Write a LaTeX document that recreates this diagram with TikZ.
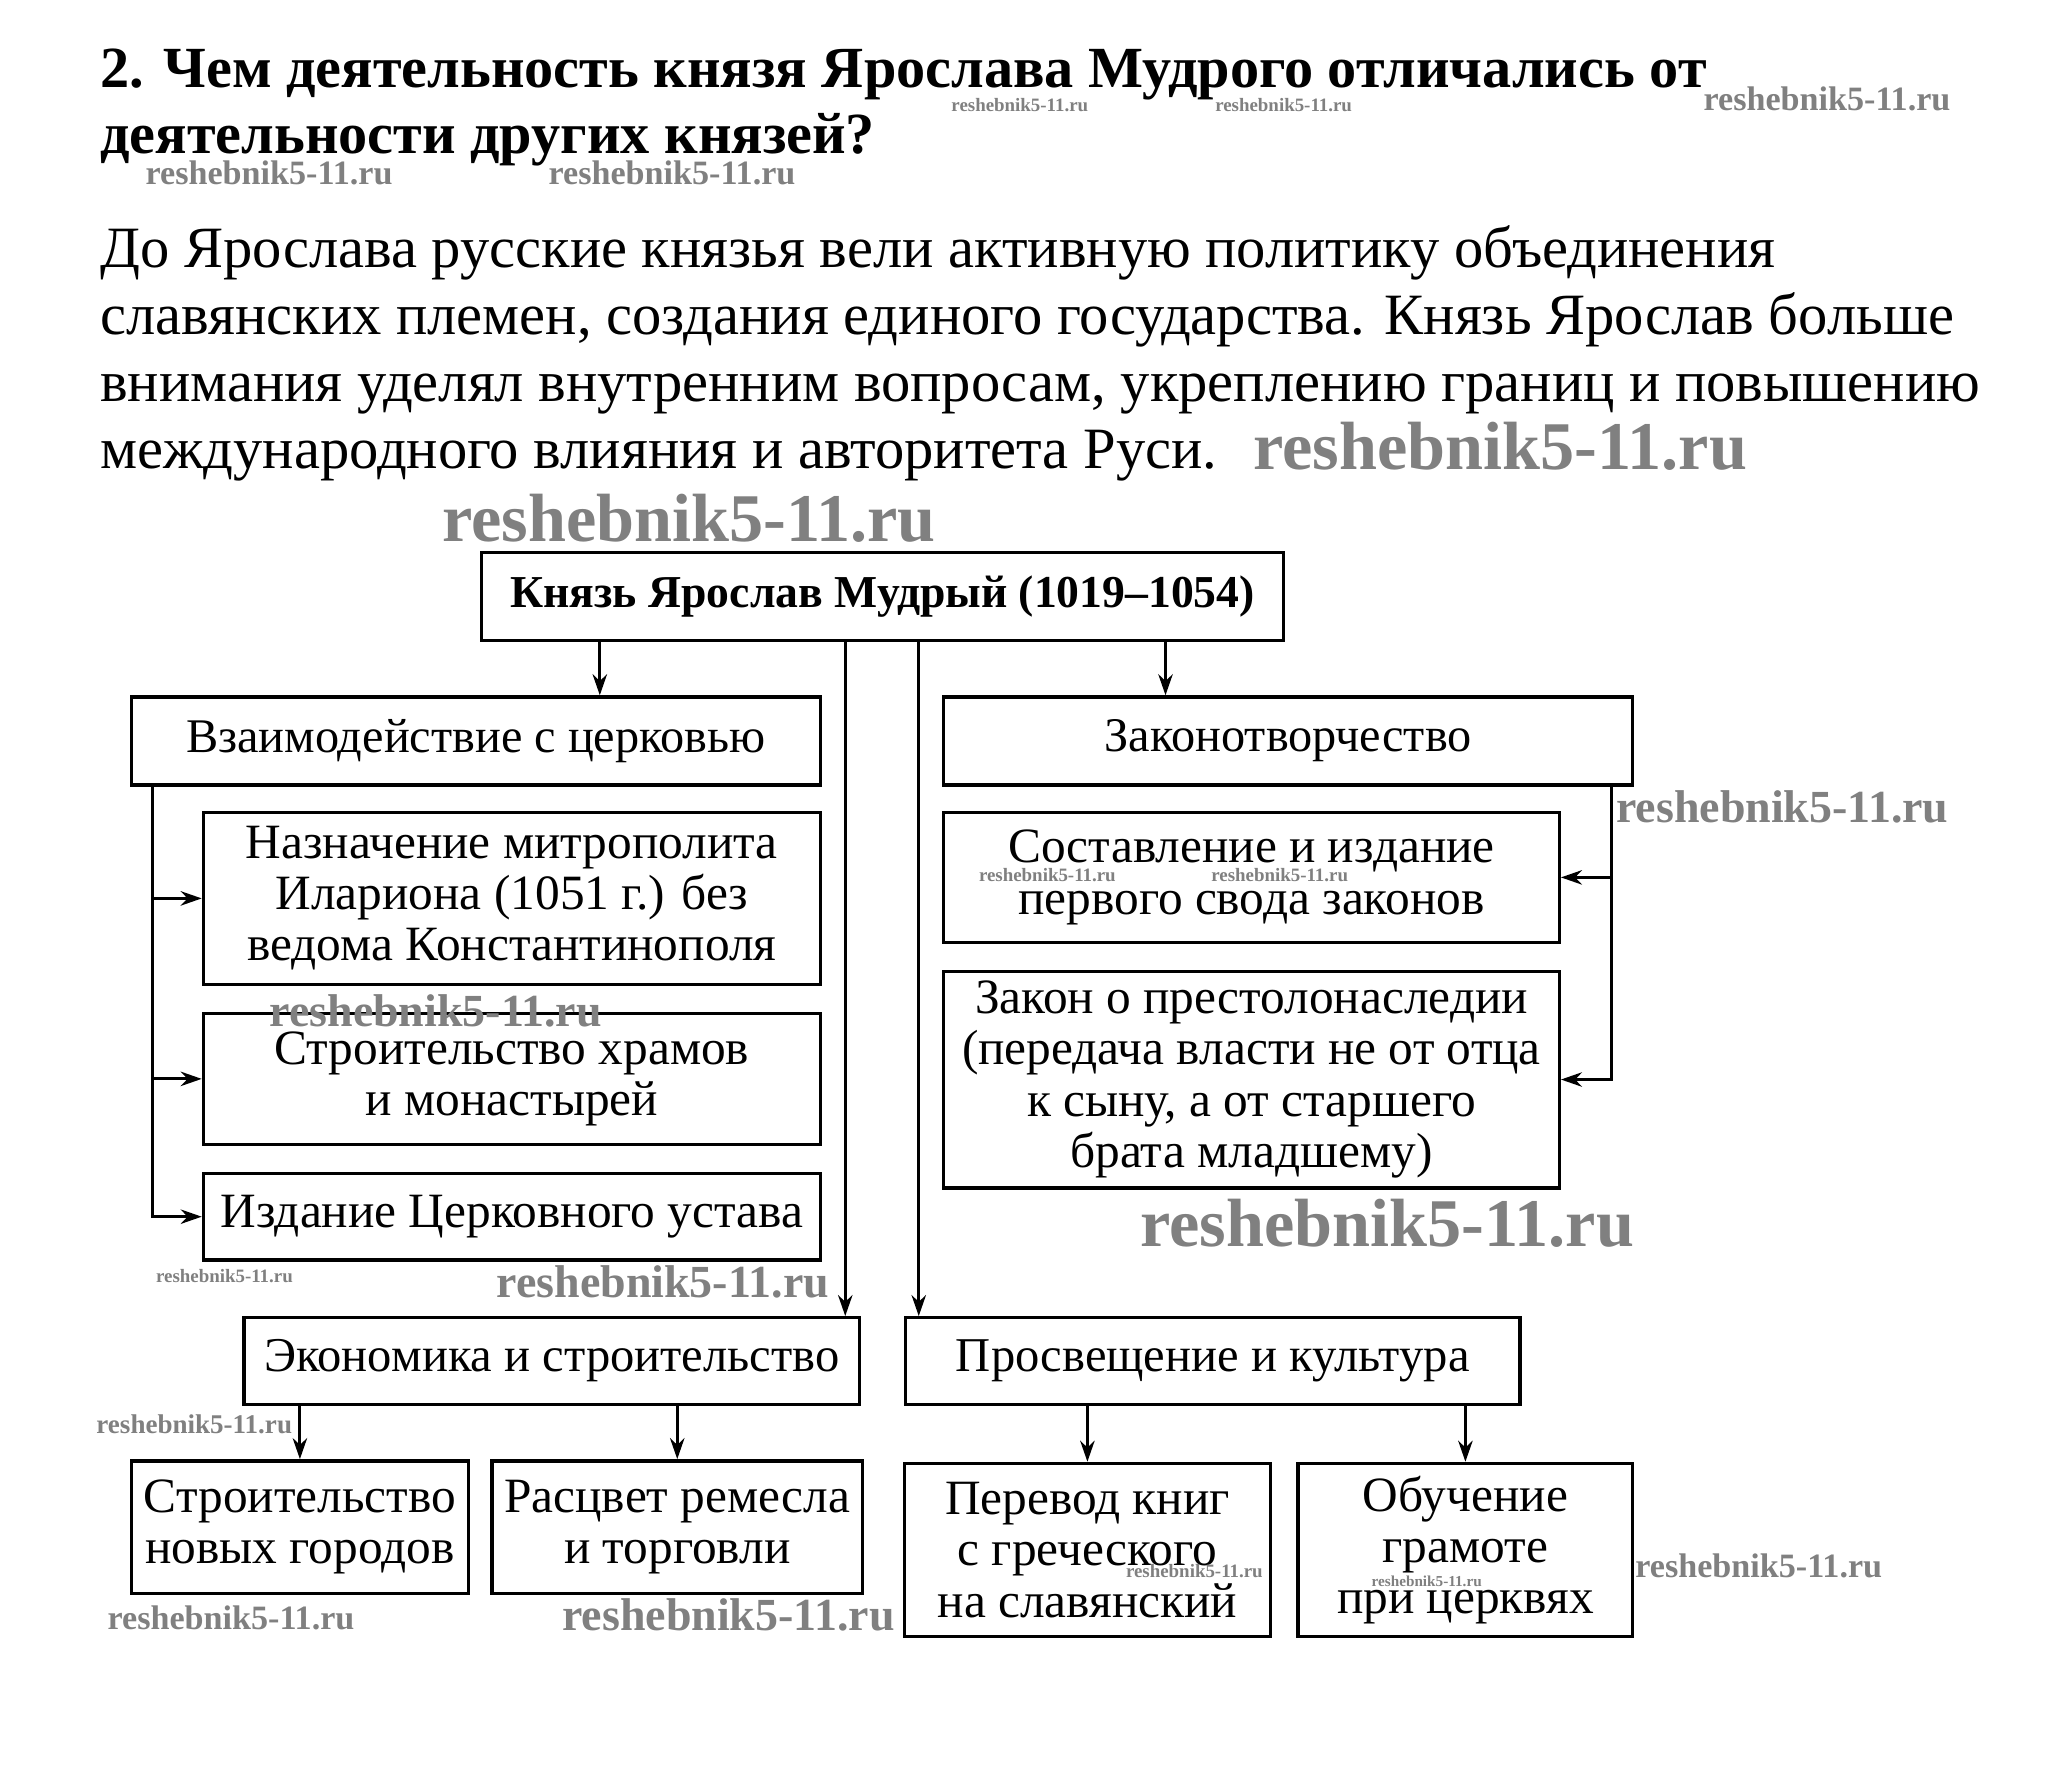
\documentclass[tikz,border=0pt]{standalone}
\usepackage{fontspec}
\setmainfont{Liberation Serif}
\usetikzlibrary{arrows.meta}
\begin{document}
\begin{tikzpicture}[x=0.5pt,y=-0.5pt,
  box/.style={draw, line width=1.3pt, inner sep=0pt, align=center, font=\fontsize{18.8}{19.5}\selectfont},
  arr/.style={line width=1.1pt, -{Stealth[length=8pt,width=5.5pt]}},
  ttl/.style={anchor=base west, inner sep=0pt, font=\bfseries\fontsize{22.2}{25}\selectfont},
  par/.style={anchor=base west, inner sep=0pt, font=\fontsize{22.3}{25}\selectfont},
  wm/.style={text=black!50, inner sep=0pt, font=\bfseries\fontsize{#1}{#1}\selectfont}]
\fill[white] (0,0) rectangle (1568,1358);
\useasboundingbox (0,0) rectangle (1568,1358);
% title
\node[ttl] (t1) at (76,67) {2. Чем деятельность князя Ярослава Мудрого отличались от};
\node[ttl] (t2) at (76,117) {деятельности других князей?};
% paragraph
\node[par] (p1) at (76,204) {До Ярослава русские князья вели активную политику объединения};
\node[par] (p2) at (76,255) {славянских племен, создания единого государства. Князь Ярослав больше};
\node[par] (p3) at (76,306) {внимания уделял внутренним вопросам, укреплению границ и повышению};
\node[par] (p4) at (76,357) {международного влияния и авторитета Руси.};
% boxes
\node[box, minimum width=305.5pt, minimum height=33.5pt, font=\bfseries\fontsize{17.4}{19.5}\selectfont] (top) at (672.5,454.5) {Князь Ярослав Мудрый (1019–1054)};
\node[box, minimum width=262.5pt, minimum height=33.5pt, font=\fontsize{18.4}{19.5}\selectfont] (church) at (362.5,564.5) {Взаимодействие с церковью};
\node[box, minimum width=262.5pt, minimum height=33.5pt, font=\fontsize{18.4}{19.5}\selectfont] (law) at (981.5,564.5) {Законотворчество};
\node[box, minimum width=235pt, minimum height=65.5pt] (c1) at (390,684.5) {Назначение митрополита\\Илариона (1051 г.) без\\ведома Константинополя};
\node[box, minimum width=235pt, minimum height=50pt] (c2) at (390,822) {Строительство храмов\\и монастырей};
\node[box, minimum width=235pt, minimum height=33pt] (c3) at (390,927) {Издание Церковного устава};
\node[box, minimum width=234.5pt, minimum height=49.5pt] (l1) at (953.5,668.5) {Составление и издание\\первого свода законов};
\node[box, minimum width=234.5pt, minimum height=82.5pt] (l2) at (953.5,822.5) {Закон о престолонаследии\\(передача власти не от отца\\к сыну, а от старшего\\брата младшему)};
\node[box, minimum width=234.5pt, minimum height=33pt, font=\fontsize{18.5}{19.5}\selectfont] (econ) at (420.5,1037) {Экономика и строительство};
\node[box, minimum width=234pt, minimum height=33pt, font=\fontsize{18.5}{19.5}\selectfont] (edu) at (924,1037) {Просвещение и культура};
\node[box, minimum width=128.5pt, minimum height=50.5pt] (e1) at (228.5,1163.5) {Строительство\\новых городов};
\node[box, minimum width=141pt, minimum height=50.5pt] (e2) at (516,1163.5) {Расцвет ремесла\\и торговли};
\node[box, minimum width=139.5pt, minimum height=66pt] (q1) at (828.5,1181) {Перевод книг\\с греческого\\на славянский};
\node[box, minimum width=127.5pt, minimum height=66pt] (q2) at (1116.5,1181) {Обучение\\грамоте\\при церквях};
% connector columns
\coordinate (xa) at (457,0);
\coordinate (xb) at (888,0);
\coordinate (xc) at (644,0);
\coordinate (xd) at (700,0);
\coordinate (xL) at (116,0);
\coordinate (xR) at (1228,0);
\draw[arr] (top.south -| xa) -- (church.north -| xa);
\draw[arr] (top.south -| xb) -- (law.north -| xb);
\draw[arr] (top.south -| xc) -- (econ.north -| xc);
\draw[arr] (top.south -| xd) -- (edu.north -| xd);
\draw[arr] (church.south -| xL) |- (c3.west);
\draw[arr] (c1.west -| xL) -- (c1.west);
\draw[arr] (c2.west -| xL) -- (c2.west);
\draw[arr] (law.south -| xR) |- (l2.east);
\draw[arr] (l1.east -| xR) -- (l1.east);
\draw[arr] (econ.south -| e1.north) -- (e1.north);
\draw[arr] (econ.south -| e2.north) -- (e2.north);
\draw[arr] (edu.south -| q1.north) -- (q1.north);
\draw[arr] (edu.south -| q2.north) -- (q2.north);
% watermarks
\node[wm=7.2] (w1) at (777,80) {reshebnik5-11.ru};
\node[wm=7.2] (w2) at (978,80) {reshebnik5-11.ru};
\node[wm=13] (w3) at (1392,75) {reshebnik5-11.ru};
\node[wm=13] (w4) at (205,132) {reshebnik5-11.ru};
\node[wm=13] (w5) at (512,132) {reshebnik5-11.ru};
\node[wm=26] (w6) at (1143,340) {reshebnik5-11.ru};
\node[wm=26] (w7) at (525,395) {reshebnik5-11.ru};
\node[wm=17.5] (w8) at (1358,615) {reshebnik5-11.ru};
\node[wm=7.2] (w9) at (798,667) {reshebnik5-11.ru};
\node[wm=7.2] (w10) at (975,667) {reshebnik5-11.ru};
\node[wm=17.5] (w11) at (332,770) {reshebnik5-11.ru};
\node[wm=26] (w12) at (1057,932) {reshebnik5-11.ru};
\node[wm=7.2] (w13) at (171,972) {reshebnik5-11.ru};
\node[wm=17.5] (w14) at (505,977) {reshebnik5-11.ru};
\node[wm=10.3] (w15) at (148,1085) {reshebnik5-11.ru};
\node[wm=7.2] (w16) at (910,1197) {reshebnik5-11.ru};
\node[wm=5.8] (w17) at (1087,1205) {reshebnik5-11.ru};
\node[wm=13] (w18) at (1340,1193) {reshebnik5-11.ru};
\node[wm=13] (w19) at (176,1233) {reshebnik5-11.ru};
\node[wm=17.5] (w20) at (555,1230) {reshebnik5-11.ru};
\end{tikzpicture}
\end{document}
